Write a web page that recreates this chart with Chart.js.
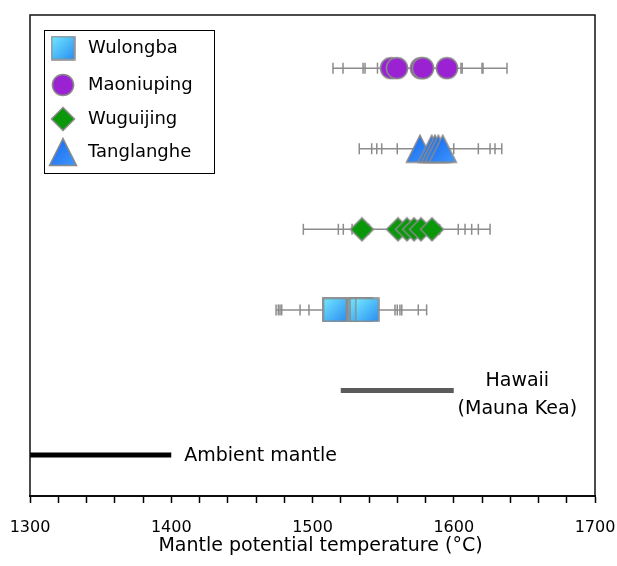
<!DOCTYPE html>
<html><head><meta charset="utf-8">
<script src="https://cdn.jsdelivr.net/npm/chart.js@4.4.1/dist/chart.umd.min.js"></script>
<style>html,body{margin:0;padding:0;background:#fff}</style>
</head><body>
<canvas id="c" width="617" height="566"></canvas>
<script>
// ---- data ----
const seriesNames = ['Wulongba', 'Maoniuping', 'Wuguijing', 'Tanglanghe'];
const seriesRows  = [3, 6, 4, 5];
const wulongbaT   = [1515.6, 1515.9, 1532.8, 1533.3, 1534.7, 1538.7];
const wulongbaLo  = [1474.2, 1475.8, 1477.0, 1478.2, 1491.2, 1497.5];
const wulongbaHi  = [1558.4, 1560.0, 1561.9, 1563.2, 1574.9, 1580.8];
const maoniupingT  = [1555.6, 1559.8, 1576.8, 1578.2, 1595.2];
const maoniupingLo = [1514.5, 1521.6, 1535.8, 1537.2, 1546.0];
const maoniupingHi = [1605.1, 1606.0, 1620.0, 1620.7, 1637.7];
const wuguijingT  = [1535.0, 1560.5, 1566.9, 1571.9, 1576.8, 1584.6];
const wuguijingLo = [1493.5, 1518.3, 1521.8, 1528.0, 1532.0, 1540.0];
const wuguijingHi = [1590.0, 1603.2, 1608.0, 1612.7, 1617.4, 1625.7];
const tanglangheT  = [1576.1, 1584.4, 1586.7, 1589.1, 1592.2];
const tanglangheLo = [1533.1, 1541.9, 1545.5, 1549.0, 1560.0];
const tanglangheHi = [1600.0, 1617.4, 1625.7, 1629.2, 1634.0];
const hawaiiRange  = [1520, 1600];
const hawaiiRow    = 2;
const ambientRange = [1300, 1400];
const ambientRow   = 1.2;
const hawaiiLabel  = ['Hawaii', '(Mauna Kea)'];
const hawaiiLabelX = 1645;
const ambientLabel = 'Ambient mantle';
const xTickLabels  = [1300, 1400, 1500, 1600, 1700];
const axisTitle    = 'Mantle potential temperature (°C)';

const seriesT  = [wulongbaT, maoniupingT, wuguijingT, tanglangheT];
const seriesLo = [wulongbaLo, maoniupingLo, wuguijingLo, tanglangheLo];
const seriesHi = [wulongbaHi, maoniupingHi, wuguijingHi, tanglangheHi];

// ---- marker images ----
function mk(w, h, draw) { const c = document.createElement('canvas'); c.width = w; c.height = h; draw(c.getContext('2d'), w, h); return c; }
const BORDER = '#8a8a8a';
const imgSquare = mk(25, 25, g => {
  const gr = g.createLinearGradient(1, 1, 24, 24); gr.addColorStop(0, '#72e8ff'); gr.addColorStop(1, '#2a8ef2');
  g.fillStyle = gr; g.fillRect(1, 1, 23, 23); g.strokeStyle = BORDER; g.lineWidth = 1.5; g.strokeRect(1, 1, 23, 23);
});
const imgCircle = mk(24, 24, g => {
  g.beginPath(); g.arc(12, 12, 10.6, 0, Math.PI * 2); g.fillStyle = '#9a22d2'; g.fill(); g.strokeStyle = BORDER; g.lineWidth = 1.5; g.stroke();
});
const imgDiamond = mk(26, 26, g => {
  g.beginPath(); g.moveTo(13, 1.5); g.lineTo(24.5, 13); g.lineTo(13, 24.5); g.lineTo(1.5, 13); g.closePath();
  g.fillStyle = '#0a980a'; g.fill(); g.strokeStyle = BORDER; g.lineWidth = 1.5; g.stroke();
});
const imgTriangle = mk(30, 30, g => {
  const gr = g.createLinearGradient(2, 2, 28, 28); gr.addColorStop(0, '#1666ee'); gr.addColorStop(1, '#3f98fb');
  g.beginPath(); g.moveTo(15, 1.5); g.lineTo(28.5, 28.5); g.lineTo(1.5, 28.5); g.closePath();
  g.fillStyle = gr; g.fill(); g.strokeStyle = BORDER; g.lineWidth = 1.5; g.stroke();
});
const markerImgs = [imgSquare, imgCircle, imgDiamond, imgTriangle];

// ---- datasets ----
const datasets = [];
seriesNames.forEach((name, i) => {
  const row = seriesRows[i];
  datasets.push({ type: 'scatter', label: name, data: seriesT[i].map(x => ({ x, y: row })),
    pointStyle: markerImgs[i], pointRadius: 12, order: 0 });
  datasets.push({ type: 'scatter', label: name + ' caps',
    data: seriesLo[i].concat(seriesHi[i]).map(x => ({ x, y: row })),
    pointStyle: 'line', rotation: 90, pointRadius: 5.5, borderColor: '#8c8c8c', borderWidth: 1.5, order: 1 });
  datasets.push({ type: 'line', label: name + ' range',
    data: [{ x: Math.min(...seriesLo[i]), y: row }, { x: Math.max(...seriesHi[i]), y: row }],
    borderColor: '#8c8c8c', borderWidth: 1.5, pointRadius: 0, order: 2 });
});
datasets.push({ type: 'line', label: 'Hawaii', data: hawaiiRange.map(x => ({ x, y: hawaiiRow })),
  borderColor: '#5b5b5b', borderWidth: 5, pointRadius: 0, order: 3 });
datasets.push({ type: 'line', label: 'Ambient', data: ambientRange.map(x => ({ x, y: ambientRow })),
  borderColor: '#000000', borderWidth: 5, pointRadius: 0, order: 3 });

const FONT = 'DejaVu Sans';
const legendRowOffsets = [18, 55, 89, 122];

const framePlugin = {
  id: 'frame',
  afterDraw(chart) {
    const { ctx, chartArea: ca, scales } = chart;
    ctx.save();
    // frame
    ctx.strokeStyle = '#111'; ctx.lineWidth = 1.5;
    ctx.strokeRect(ca.left, ca.top, ca.right - ca.left, ca.bottom - ca.top);
    // axis title
    ctx.fillStyle = '#000'; ctx.textBaseline = 'middle'; ctx.textAlign = 'center';
    ctx.font = '19px "' + FONT + '"';
    ctx.fillText(axisTitle, (ca.left + ca.right) / 2 + 8, ca.bottom + 50);
    // annotations
    const yH = scales.y.getPixelForValue(hawaiiRow);
    const xH = scales.x.getPixelForValue(hawaiiLabelX);
    ctx.fillText(hawaiiLabel[0], xH, yH - 9);
    ctx.fillText(hawaiiLabel[1], xH, yH + 19);
    ctx.textAlign = 'left';
    ctx.fillText(ambientLabel, scales.x.getPixelForValue(ambientRange[1]) + 13, scales.y.getPixelForValue(ambientRow) + 1);
    // legend box
    const bx = ca.left + 14, by = ca.top + 15, bw = 170, bh = 143;
    ctx.fillStyle = '#fff'; ctx.fillRect(bx, by, bw, bh);
    ctx.strokeStyle = '#000'; ctx.lineWidth = 1; ctx.strokeRect(bx + 0.5, by + 0.5, bw, bh);
    ctx.font = '18px "' + FONT + '"'; ctx.fillStyle = '#000';
    seriesNames.forEach((name, i) => {
      const cy = by + legendRowOffsets[i];
      const im = markerImgs[i];
      ctx.drawImage(im, bx + 19 - im.width / 2, cy - im.height / 2);
      ctx.fillText(name, bx + 44, cy);
    });
    ctx.restore();
  }
};

new Chart(document.getElementById('c'), {
  type: 'scatter',
  data: { datasets },
  options: {
    responsive: false, animation: false, devicePixelRatio: 1, events: [],
    layout: { padding: { top: 15, left: 30, right: 22, bottom: 0 } },
    plugins: { legend: { display: false }, tooltip: { enabled: false } },
    scales: {
      x: {
        type: 'linear', min: 1300, max: 1700, position: 'bottom',
        afterFit(scale) { scale.paddingLeft = 0; scale.paddingRight = 0; scale.height = 70; },
        border: { display: true, color: '#000', width: 2 },
        grid: { display: true, drawOnChartArea: false, drawTicks: true, tickLength: 7, tickColor: '#000', tickWidth: 1.5 },
        ticks: { stepSize: 20, autoSkip: false, maxRotation: 0, padding: 15, color: '#000',
          font: { family: FONT, size: 16 },
          callback: v => xTickLabels.includes(v) ? String(v) : '' }
      },
      y: { type: 'linear', min: 0.69, max: 6.66, display: false }
    }
  },
  plugins: [framePlugin]
});
</script>
</body></html>
